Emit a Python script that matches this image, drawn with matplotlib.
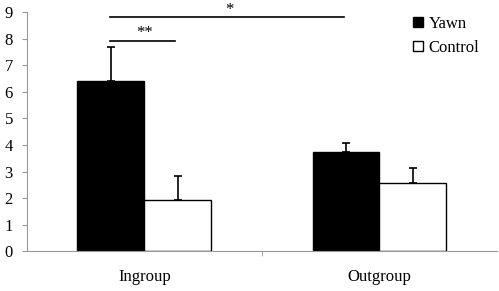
import matplotlib
matplotlib.use("Agg")
import matplotlib.pyplot as plt
from matplotlib.lines import Line2D
import numpy as np

categories = ["Ingroup", "Outgroup"]
yawn = [6.42, 3.75]
yawn_err = [1.28, 0.32]
control = [1.93, 2.58]
control_err = [0.92, 0.57]
yticks = list(range(0, 10))

plt.rcParams['font.family'] = ['Liberation Serif', 'DejaVu Serif']
plt.rcParams['font.size'] = 12

fig = plt.figure(figsize=(4.99, 2.91), dpi=100)
ax = fig.add_axes([0.054, 0.1365, 0.942, 0.8215])

x = np.arange(len(categories))
w = 0.285
ax.bar(x - w/2, yawn, w, color='black', edgecolor='black', linewidth=1, zorder=2)
ax.bar(x + w/2, control, w, color='white', edgecolor='black', linewidth=1, zorder=2)
ax.errorbar(x - w/2, yawn, yerr=[np.zeros(2), yawn_err], fmt='none', ecolor='black',
            elinewidth=1.2, capsize=3, capthick=1.2, zorder=3)
ax.errorbar(x + w/2, control, yerr=[np.zeros(2), control_err], fmt='none', ecolor='black',
            elinewidth=1.2, capsize=3, capthick=1.2, zorder=3)

# significance lines
ax.plot([-0.147, 0.13], [7.92, 7.92], color='black', lw=1.2)
ax.text(0.0, 7.9, "**", ha='center', va='bottom', fontsize=12)
ax.plot([-0.147, 0.849], [8.81, 8.81], color='black', lw=1.2)
ax.text(0.36, 8.8, "*", ha='center', va='bottom', fontsize=12)

ax.set_xlim(-0.5, 1.5)
ax.set_ylim(0, 9)
ax.set_yticks(yticks)
ax.set_xticks(x)
ax.set_xticklabels(categories)
ax.set_xticks([0.5], minor=True)
ax.tick_params(axis='x', which='major', length=0, pad=13)
ax.tick_params(axis='x', which='minor', length=3.5, color='#999999')
ax.tick_params(axis='y', length=3.6, color='#999999', pad=6.5)

for s in ['top', 'right']:
    ax.spines[s].set_visible(False)
for s in ['left', 'bottom']:
    ax.spines[s].set_color('#999999')

handles = [Line2D([], [], marker='s', ls='none', mfc='black', mec='black', ms=7),
           Line2D([], [], marker='s', ls='none', mfc='white', mec='black', ms=7)]
ax.legend(handles, ["Yawn", "Control"], frameon=False, loc='upper left',
          bbox_to_anchor=(0.806, 1.012), handlelength=0.7, handletextpad=0.25,
          labelspacing=0.45, borderaxespad=0)

fig.savefig("out.png", dpi=100)
